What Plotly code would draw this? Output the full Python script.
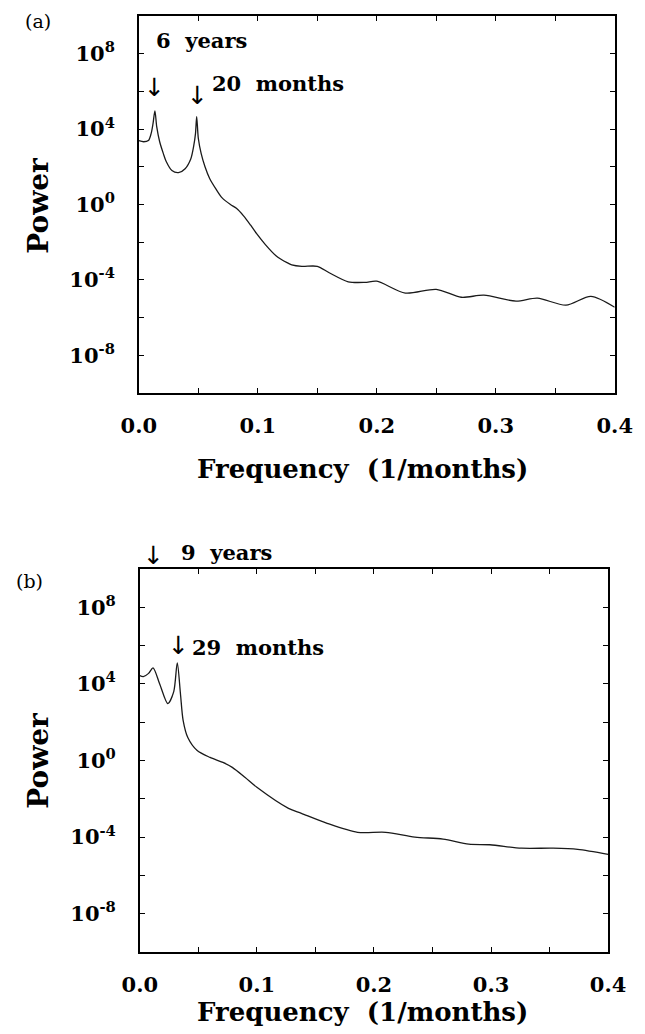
import plotly.graph_objects as go

# ---------------- data ----------------
# panel (a): frequency (1/months) and log10 of power
freq_a = [0.000, 0.004, 0.008, 0.0103, 0.0119, 0.0135, 0.015, 0.0175, 0.0206, 0.023,
          0.0278, 0.0333, 0.0389, 0.0437, 0.046, 0.0476, 0.0486, 0.050, 0.0524, 0.0556,
          0.0595, 0.065, 0.070, 0.077, 0.082, 0.088, 0.094, 0.099, 0.106, 0.115,
          0.125, 0.1285, 0.137, 0.150, 0.160, 0.176, 0.190, 0.200, 0.224, 0.250,
          0.271, 0.290, 0.317, 0.335, 0.359, 0.380, 0.400]
log10_power_a = [3.39, 3.33, 3.39, 3.76, 4.29, 4.97, 4.13, 3.33, 2.7, 2.28,
                 1.8, 1.69, 1.9, 2.43, 3.07, 3.76, 4.66, 3.5, 2.7, 2.0,
                 1.38, 0.8, 0.35, 0.0, -0.2, -0.6, -1.1, -1.55, -2.1, -2.7,
                 -3.1, -3.2, -3.28, -3.28, -3.62, -4.1, -4.13, -4.07, -4.7, -4.5,
                 -4.92, -4.81, -5.13, -4.97, -5.34, -4.87, -5.45]

# panel (b)
freq_b = [0.000, 0.003, 0.0075, 0.0113, 0.017, 0.024, 0.029, 0.032, 0.0347, 0.037,
          0.041, 0.049, 0.060, 0.071, 0.079, 0.090, 0.100, 0.127, 0.138, 0.160,
          0.186, 0.210, 0.235, 0.259, 0.281, 0.299, 0.326, 0.353, 0.374, 0.400]
log10_power_b = [4.43, 4.38, 4.55, 4.84, 4.0, 2.97, 3.6, 5.1, 3.5, 2.1,
                 1.2, 0.52, 0.16, -0.1, -0.36, -0.89, -1.4, -2.5, -2.76, -3.28,
                 -3.75, -3.75, -4.0, -4.1, -4.37, -4.4, -4.58, -4.58, -4.64, -4.9]

x_tick_vals = [0.0, 0.05, 0.1, 0.15, 0.2, 0.25, 0.3, 0.35, 0.4]
x_tick_text = ["0.0", "", "0.1", "", "0.2", "", "0.3", "", "0.4"]
y_tick_exps = [-8, -6, -4, -2, 0, 2, 4, 6, 8]
y_tick_text = ["10<sup>-8</sup>", "", "10<sup>-4</sup>", "", "10<sup>0</sup>", "",
               "10<sup>4</sup>", "", "10<sup>8</sup>"]

panel_labels = ["(a)", "(b)"]
peak_labels_a = ["6  years", "20  months"]
peak_labels_b = ["9  years", "29  months"]

# ---------------- figure ----------------
SERIF = "DejaVu Serif"
fig = go.Figure()
fig.add_trace(go.Scatter(x=freq_a, y=[10 ** v for v in log10_power_a], mode="lines",
                         line=dict(color="#1a1a1a", width=1.3, shape="spline",
                                   smoothing=0.8),
                         xaxis="x", yaxis="y", showlegend=False))
fig.add_trace(go.Scatter(x=freq_b, y=[10 ** v for v in log10_power_b], mode="lines",
                         line=dict(color="#1a1a1a", width=1.3, shape="spline",
                                   smoothing=0.8),
                         xaxis="x2", yaxis="y2", showlegend=False))

tickfont = dict(family=SERIF, size=21, color="black", weight="bold")

def xaxis(domain, anchor):
    return dict(domain=domain, anchor=anchor, range=[0, 0.4], tickmode="array",
                tickvals=x_tick_vals, ticktext=x_tick_text, ticks="inside", ticklen=5,
                tickwidth=1.3, tickcolor="black", showline=True, linecolor="black",
                linewidth=1.5, mirror="ticks", showgrid=False, zeroline=False,
                tickfont=tickfont, ticklabelstandoff=13)

def yaxis(domain, anchor):
    return dict(domain=domain, anchor=anchor, type="log", range=[-10, 10],
                tickmode="array", tickvals=[10 ** e for e in y_tick_exps],
                ticktext=y_tick_text, ticks="inside", ticklen=5, tickwidth=1.3,
                tickcolor="black", showline=True, linecolor="black", linewidth=1.5,
                mirror="ticks", showgrid=False, zeroline=False, tickfont=tickfont,
                ticklabelstandoff=18)

fig.update_layout(
    width=645, height=1034,
    margin=dict(l=0, r=0, t=0, b=0),
    paper_bgcolor="white", plot_bgcolor="white",
    xaxis=xaxis([128 / 645, 632 / 645], "y"),
    yaxis=yaxis([1 - 393 / 1034, 1 - 16 / 1034], "x"),
    xaxis2=xaxis([129 / 645, 625 / 645], "y2"),
    yaxis2=yaxis([1 - 952 / 1034, 1 - 569 / 1034], "x2"),
)

ann = []
def t(text, x, y, xref, yref, size, weight="bold", xanchor="center", family=SERIF,
      angle=0):
    ann.append(dict(text=text, x=x, y=y, xref=xref, yref=yref, showarrow=False,
                    xanchor=xanchor, yanchor="middle", textangle=angle,
                    font=dict(family=family, size=size, color="black", weight=weight)))

ARROW = "\u2193"
# panel labels
t(panel_labels[0], 21 / 645, 1 - 21 / 1034, "paper", "paper", 19, weight="normal")
t(panel_labels[1], 12 / 645, 1 - 581 / 1034, "paper", "paper", 19, weight="normal")
# axis titles
for yc in (1 - 469 / 1034, 1 - 1012 / 1034):
    t("Frequency  (1/months)", 365 / 645, yc, "paper", "paper", 26)
for yc in (1 - 205 / 1034, 1 - 760 / 1034):
    t("Power", 21 / 645, yc, "paper", "paper", 28, angle=-90)
# peak annotations panel (a)
t(peak_labels_a[0], 0.013, 8.7, "x", "y", 21, xanchor="left")
t(ARROW, 0.0135, 6.2, "x", "y", 25, weight="normal", family="DejaVu Sans")
t(peak_labels_a[1], 0.060, 6.4, "x", "y", 21, xanchor="left")
t(ARROW, 0.0495, 5.77, "x", "y", 25, weight="normal", family="DejaVu Sans")
# peak annotations panel (b)  (the 9-year mark lies above the frame)
t(ARROW, 143 / 645, 1 - 555 / 1034, "paper", "paper", 25, weight="normal",
  family="DejaVu Sans")
t(peak_labels_b[0], 170 / 645, 1 - 552 / 1034, "paper", "paper", 21, xanchor="left")
t(ARROW, 0.033, 6.0, "x2", "y2", 25, weight="normal", family="DejaVu Sans")
t(peak_labels_b[1], 0.043, 5.89, "x2", "y2", 21, xanchor="left")
fig.update_layout(annotations=ann)

fig.write_html("out.html")
